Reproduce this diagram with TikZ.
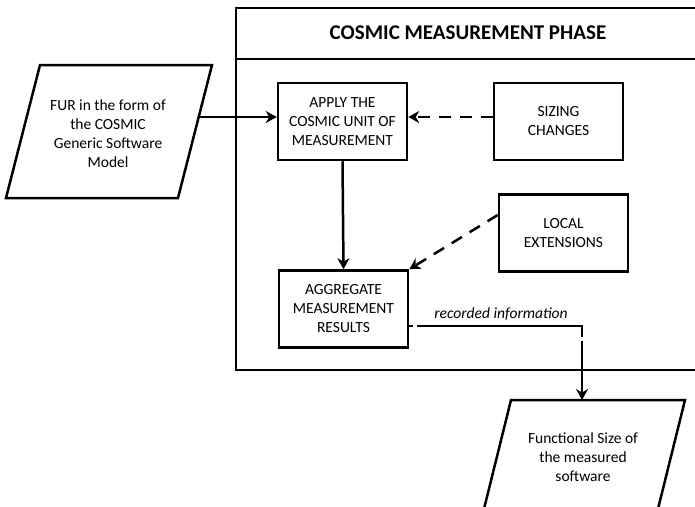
\documentclass[tikz,border=0pt]{standalone}
\usepackage{fontspec}
\setmainfont{Carlito}
\usetikzlibrary{arrows.meta}
\tikzset{
  boxline/.style={line width=2.5pt, draw=black},
  procbox/.style={boxline, minimum width=129pt, minimum height=77pt, inner sep=0pt,
    align=center, font=\fontsize{15.5}{19}\selectfont},
  txt/.style={align=center, font=\fontsize{15.5}{19}\selectfont},
  flow/.style={line width=2.5pt, -{Stealth[length=11pt,width=12pt,inset=3.5pt]}},
  dflow/.style={flow, dash pattern=on 12pt off 9pt},
}
\begin{document}
\begin{tikzpicture}[x=1pt,y=-1pt]
\useasboundingbox (0,0) rectangle (695,506);
% measurement phase frame
\draw[boxline] (705,8) -- (236,8) -- (236,370) -- (705,370);
\draw[boxline] (236,59) -- (705,59);
\node[font=\fontsize{21}{25}\selectfont\bfseries] (title) at (468,33) {COSMIC MEASUREMENT PHASE};
% input parallelogram
\draw[boxline] (40,65) -- (212,65) -- (178,198) -- (6,198) -- cycle;
\node[txt] (fur) at (108,134) {FUR in the form of\\the COSMIC\\Generic Software\\Model};
\coordinate (furout) at (199,117);
% process boxes
\node[procbox] (apply) at (342.5,121.5) {APPLY THE\\COSMIC UNIT OF\\MEASUREMENT};
\node[procbox] (sizing) at (558.5,121.5) {SIZING\\CHANGES};
\node[procbox] (local) at (563.5,233) {LOCAL\\EXTENSIONS};
\node[procbox] (agg) at (343.5,309) {AGGREGATE\\MEASUREMENT\\RESULTS};
% output parallelogram
\draw[boxline] (511,400) -- (685,400) -- (652,533) -- (478,533) -- cycle;
\node[txt] (fsize) at (583,457) {Functional Size of\\the measured\\software};
\coordinate (outtop) at (582,400);
% connectors
\draw[flow] (furout) -- (furout -| apply.west);
\draw[dflow] (sizing.west |- 0,117) -- (apply.east |- 0,117);
\draw[flow] (apply.south) -- (agg.north);
\draw[dflow] (local.west |- 0,215) -- (agg.north east);
\coordinate (recstart) at (agg.east |- 0,326);
\coordinate (bend) at (582,326);
\draw[flow, dash pattern=on 4pt off 4pt on 176pt off 4pt on 200pt] (recstart) -- (bend) -- (outtop);
\node[font=\fontsize{15.5}{19}\selectfont\itshape, anchor=south] (rec) at (501,324) {recorded information};
\end{tikzpicture}
\end{document}
